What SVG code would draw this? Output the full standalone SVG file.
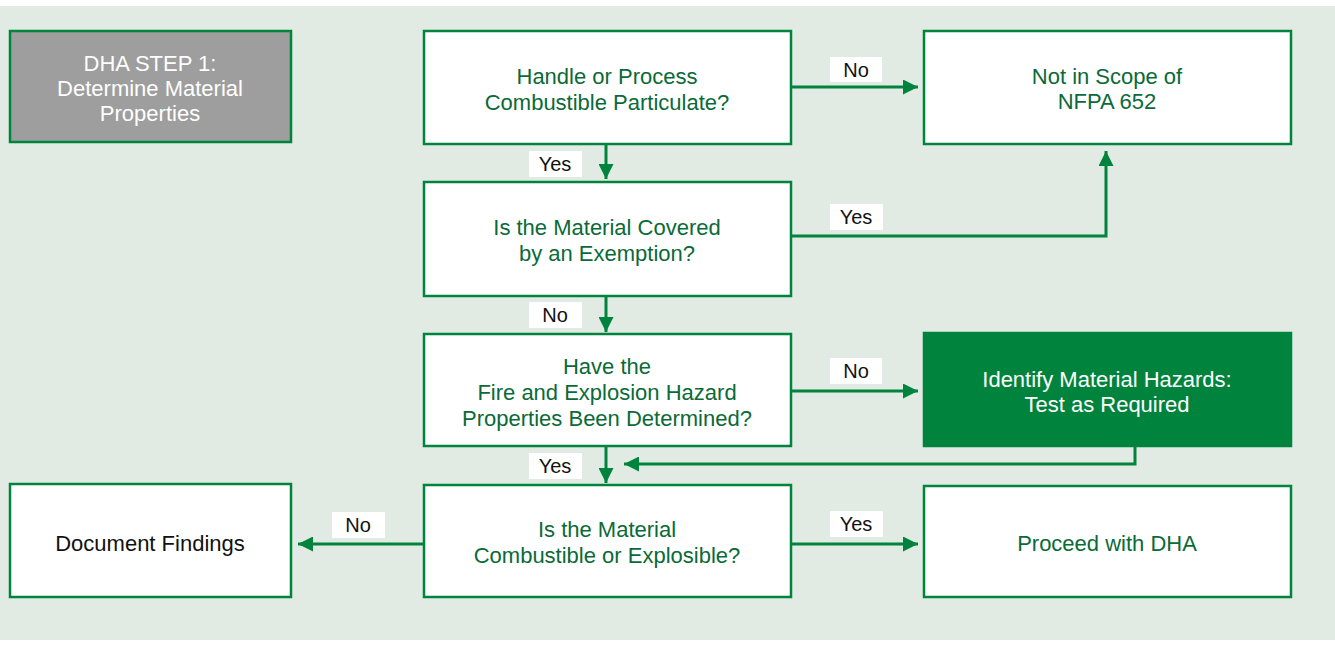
<svg xmlns="http://www.w3.org/2000/svg" width="1335" height="645" viewBox="0 0 1335 645">
<defs>
<style>
.bg{fill:#e1ebe3}
.box{fill:#ffffff;stroke:#00843d;stroke-width:2.5}
.gray{fill:#9d9e9d;stroke:#00843d;stroke-width:2.5}
.dark{fill:#00843d;stroke:#00843d;stroke-width:2.5}
.t{font-family:"Liberation Sans",Arial,sans-serif;font-size:22px;text-anchor:middle;fill:#0a6a38}
.tw{fill:#ffffff}
.tb{fill:#111111}
.lbl{fill:#ffffff}
.lt{font-family:"Liberation Sans",Arial,sans-serif;font-size:20px;text-anchor:middle;fill:#111111}
.c{fill:none;stroke:#00843d;stroke-width:3}
</style>
<marker id="ah" viewBox="0 0 10 10" refX="10" refY="5" markerWidth="6" markerHeight="5" markerUnits="strokeWidth" orient="auto">
<path d="M0,0 L10,5 L0,10 z" fill="#00843d"/>
</marker>
</defs>
<rect class="bg" x="0" y="6" width="1335" height="634"/>

<g id="connectors">
<line class="c" x1="791" y1="87" x2="918" y2="87" marker-end="url(#ah)"/>
<line class="c" x1="606" y1="144" x2="606" y2="179" marker-end="url(#ah)"/>
<polyline class="c" points="791,236 1106,236 1106,151" marker-end="url(#ah)"/>
<line class="c" x1="606" y1="296" x2="606" y2="332" marker-end="url(#ah)"/>
<line class="c" x1="791" y1="391" x2="918" y2="391" marker-end="url(#ah)"/>
<polyline class="c" points="1135,446 1135,464 624,464" marker-end="url(#ah)"/>
<line class="c" x1="606" y1="446" x2="606" y2="483" marker-end="url(#ah)"/>
<line class="c" x1="424" y1="544" x2="298" y2="544" marker-end="url(#ah)"/>
<line class="c" x1="791" y1="544" x2="918" y2="544" marker-end="url(#ah)"/>
<rect class="lbl" x="830" y="57" width="52" height="25"/>
<text class="lt" x="856" y="77">No</text>
<rect class="lbl" x="529" y="151" width="53" height="26"/>
<text class="lt" x="555" y="171">Yes</text>
<rect class="lbl" x="830" y="204" width="53" height="26"/>
<text class="lt" x="856" y="224">Yes</text>
<rect class="lbl" x="529" y="302" width="53" height="26"/>
<text class="lt" x="555" y="322">No</text>
<rect class="lbl" x="830" y="358" width="52" height="26"/>
<text class="lt" x="856" y="378">No</text>
<rect class="lbl" x="529" y="453" width="53" height="26"/>
<text class="lt" x="555" y="473">Yes</text>
<rect class="lbl" x="332" y="512" width="53" height="26"/>
<text class="lt" x="358" y="532">No</text>
<rect class="lbl" x="830" y="511" width="53" height="26"/>
<text class="lt" x="856" y="531">Yes</text>
</g>

<g id="step1">
<rect class="gray" x="10" y="31" width="281" height="111"/>
<text class="t tw" x="150" y="71">DHA STEP 1:</text>
<text class="t tw" x="150" y="96">Determine Material</text>
<text class="t tw" x="150" y="121">Properties</text>
</g>

<g id="handle">
<rect class="box" x="424" y="31" width="367" height="113"/>
<text class="t" x="607" y="84">Handle or Process</text>
<text class="t" x="607" y="110">Combustible Particulate?</text>
</g>

<g id="notscope">
<rect class="box" x="924" y="31" width="367" height="113"/>
<text class="t" x="1107" y="84">Not in Scope of</text>
<text class="t" x="1107" y="109">NFPA 652</text>
</g>

<g id="exemption">
<rect class="box" x="424" y="182" width="367" height="114"/>
<text class="t" x="607" y="235">Is the Material Covered</text>
<text class="t" x="607" y="261">by an Exemption?</text>
</g>

<g id="determined">
<rect class="box" x="424" y="334" width="367" height="112"/>
<text class="t" x="607" y="374">Have the</text>
<text class="t" x="607" y="400">Fire and Explosion Hazard</text>
<text class="t" x="607" y="426">Properties Been Determined?</text>
</g>

<g id="identify">
<rect class="dark" x="924" y="333" width="367" height="113"/>
<text class="t tw" x="1107" y="387">Identify Material Hazards:</text>
<text class="t tw" x="1107" y="412">Test as Required</text>
</g>

<g id="combustible">
<rect class="box" x="424" y="485" width="367" height="112"/>
<text class="t" x="607" y="537">Is the Material</text>
<text class="t" x="607" y="563">Combustible or Explosible?</text>
</g>

<g id="document">
<rect class="box" x="10" y="484" width="281" height="113"/>
<text class="t tb" x="150" y="551">Document Findings</text>
</g>

<g id="proceed">
<rect class="box" x="924" y="486" width="367" height="111"/>
<text class="t" x="1107" y="551">Proceed with DHA</text>
</g>
</svg>
